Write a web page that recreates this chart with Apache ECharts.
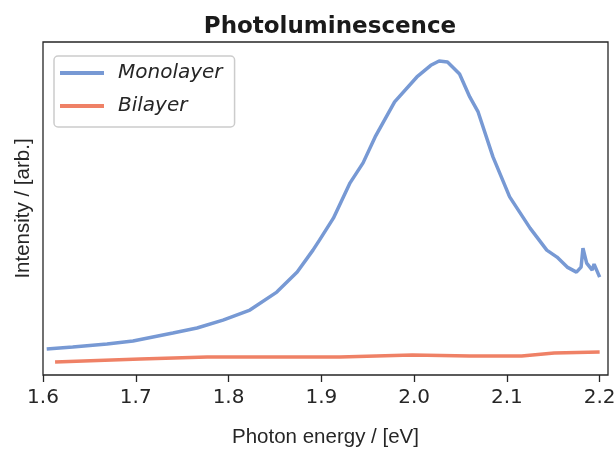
<!DOCTYPE html>
<html>
<head>
<meta charset="utf-8">
<script src="https://cdn.jsdelivr.net/npm/echarts@6/dist/echarts.min.js"></script>
<style>
  html, body { margin: 0; padding: 0; background: #fff; }
  #main { width: 616px; height: 450px; }
</style>
</head>
<body>
<div id="main"></div>
<script>
// photon energy (eV) / intensity (arb., 0..1 of plot height)
var monoEnergy = [1.604, 1.632, 1.669, 1.697, 1.740, 1.766, 1.794, 1.823, 1.852, 1.874,
  1.891, 1.898, 1.913, 1.931, 1.945, 1.958, 1.979, 2.003, 2.018, 2.027, 2.036, 2.049,
  2.060, 2.069, 2.085, 2.103, 2.125, 2.143, 2.154, 2.165, 2.175, 2.180, 2.182, 2.186,
  2.192, 2.194, 2.200];
var monoIntensity = [0.078, 0.084, 0.093, 0.102, 0.126, 0.141, 0.165, 0.195, 0.249, 0.309,
  0.375, 0.405, 0.471, 0.577, 0.637, 0.715, 0.820, 0.895, 0.930, 0.943, 0.940, 0.904,
  0.835, 0.790, 0.655, 0.535, 0.441, 0.375, 0.354, 0.324, 0.309, 0.324, 0.381, 0.336,
  0.315, 0.333, 0.294];

var biEnergy = [1.613, 1.705, 1.777, 1.920, 1.998, 2.060, 2.116, 2.151, 2.200];
var biIntensity = [0.039, 0.048, 0.054, 0.054, 0.060, 0.057, 0.057, 0.066, 0.069];

var xTicks = [1.6, 1.7, 1.8, 1.9, 2.0, 2.1, 2.2];

function pairs(xs, ys) {
  return xs.map(function (x, i) { return [x, ys[i]]; });
}

var chartDom = document.getElementById("main");
var myChart = echarts.init(chartDom);
var font = "DejaVu Sans";
var labelFont = "Liberation Sans";

var option = {
  animation: false,
  title: {
    text: "Photoluminescence",
    left: 325,
    textAlign: "center",
    top: 11,
    textStyle: { fontFamily: font, fontSize: 23, fontWeight: "bold", color: "#1a1a1a" },
  },
  legend: {
    orient: "vertical",
    left: 54,
    top: 56,
    padding: [6, 12, 10, 6],
    itemGap: 11,
    itemWidth: 44,
    itemHeight: 4,
    icon: "rect",
    borderColor: "#cccccc",
    borderWidth: 1.5,
    borderRadius: 4,
    backgroundColor: "#ffffff",
    textStyle: {
      fontFamily: font,
      fontSize: 20,
      fontStyle: "italic",
      lineHeight: 22,
      color: "#262626",
      padding: [0, 0, 0, 9],
    },
    data: ["Monolayer", "Bilayer"],
  },
  grid: {
    left: 43,
    right: 8,
    top: 42,
    bottom: 75,
    outerBoundsMode: "none",
    show: true,
    borderColor: "#262626",
    borderWidth: 1.3,
  },
  xAxis: {
    type: "value",
    min: 1.6,
    max: 2.209,
    name: "Photon energy / [eV]",
    nameLocation: "middle",
    nameGap: 52,
    nameTextStyle: { fontFamily: labelFont, fontSize: 20.5, color: "#262626" },
    axisLine: { show: false },
    axisTick: { show: true, length: 7, customValues: xTicks, lineStyle: { color: "#262626", width: 1.3 } },
    axisLabel: {
      customValues: xTicks,
      margin: 13,
      fontFamily: font,
      fontSize: 20,
      color: "#262626",
      formatter: function (v) { return v.toFixed(1); },
    },
    splitLine: { show: false },
  },
  yAxis: {
    type: "value",
    min: 0,
    max: 1,
    name: "Intensity / [arb.]",
    nameLocation: "middle",
    nameGap: 9,
    nameRotate: 90,
    nameTextStyle: { fontFamily: labelFont, fontSize: 20.5, color: "#262626" },
    axisLine: { show: false },
    axisTick: { show: false },
    axisLabel: { show: false },
    splitLine: { show: false },
  },
  series: [
    {
      name: "Monolayer",
      type: "line",
      showSymbol: false,
      data: pairs(monoEnergy, monoIntensity),
      lineStyle: { color: "#7799d4", width: 3.5 },
      itemStyle: { color: "#7799d4" },
    },
    {
      name: "Bilayer",
      type: "line",
      showSymbol: false,
      data: pairs(biEnergy, biIntensity),
      lineStyle: { color: "#ef8166", width: 3.5 },
      itemStyle: { color: "#ef8166" },
    },
  ],
};

option && myChart.setOption(option);
</script>
</body>
</html>
